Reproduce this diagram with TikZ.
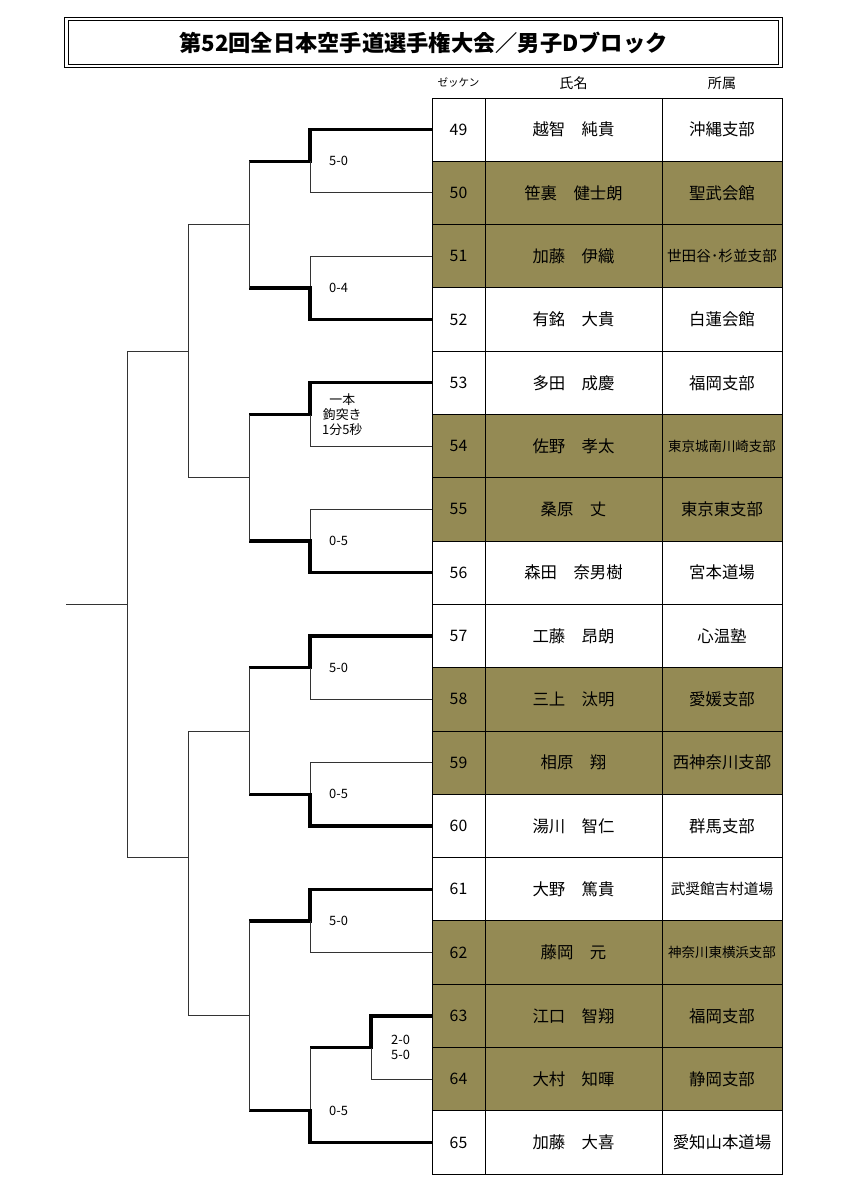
\documentclass[tikz,border=0pt]{standalone}
\usepackage{fontspec}
\setmainfont{Noto Sans CJK JP}
\usepackage{tikz}
\usetikzlibrary{positioning}
\definecolor{tanfill}{HTML}{948A54}
\newcommand\clubN{\fontsize{14}{16}\selectfont}
\newcommand\clubM{\fontsize{12.5}{14}\selectfont}
\newcommand\clubS{\fontsize{11.5}{13}\selectfont}
\tikzset{
  cell/.style={rectangle,draw=black,line width=0.8pt,inner sep=0pt,outer sep=0pt,minimum height=1.899cm,align=center},
  numcell/.style={cell,minimum width=1.59cm,font=\fontsize{13.5}{15}\selectfont},
  namecell/.style={cell,minimum width=5.31cm,font=\fontsize{14}{16}\selectfont},
  clubcell/.style={cell,minimum width=3.6cm},
  titlebox/.style={rectangle,draw,double,double distance=2.2pt,line width=0.7pt,minimum width=21.42cm,minimum height=1.42cm,font=\fontsize{19}{22}\selectfont},
  headtext/.style={inner sep=0pt,font=\fontsize{12}{14}\selectfont},
  score/.style={inner sep=0pt,align=center,font=\fontsize{11}{13}\selectfont}
}
\begin{document}
\begin{tikzpicture}[x=0.03cm,y=-0.03cm,
    win/.style={line width=2.8pt,black},
    lose/.style={line width=0.8pt,black!80}
    ]

  \useasboundingbox (0,0) rectangle (848,1200);

  \node[titlebox] (title) at (423.5,42.5) {\textbf{第52回全日本空手道選手権大会／男子Dブロック}};

  \foreach \no/\nm/\cl/\bg/\fs [count=\i from 0] in {
      49/越智　純貴/沖縄支部/white/\clubN,
      50/笹裏　健士朗/聖武会館/tanfill/\clubN,
      51/加藤　伊織/世田谷･杉並支部/tanfill/\clubM,
      52/有銘　大貴/白蓮会館/white/\clubN,
      53/多田　成慶/福岡支部/white/\clubN,
      54/佐野　孝太/東京城南川崎支部/tanfill/\clubS,
      55/桑原　丈/東京東支部/tanfill/\clubN,
      56/森田　奈男樹/宮本道場/white/\clubN,
      57/工藤　昂朗/心温塾/white/\clubN,
      58/三上　汰明/愛媛支部/tanfill/\clubN,
      59/相原　翔/西神奈川支部/tanfill/\clubN,
      60/湯川　智仁/群馬支部/white/\clubN,
      61/大野　篤貴/武奨館吉村道場/white/\clubM,
      62/藤岡　元/神奈川東横浜支部/tanfill/\clubS,
      63/江口　智翔/福岡支部/tanfill/\clubN,
      64/大村　知暉/静岡支部/tanfill/\clubN,
      65/加藤　大喜/愛知山本道場/white/\clubN}{
    \node[numcell,fill=\bg] (n\no) at (458.5,{129.65+63.3*\i}) {\no};
    \node[namecell,fill=\bg,right=0pt of n\no] (m\no) {\nm};
    \node[clubcell,fill=\bg,font=\fs,right=0pt of m\no] (c\no) {\cl};
  }

  \node[headtext,font=\fontsize{9}{10}\selectfont,above=0.3cm of n49] (hnum) {ゼッケン};
  \node[headtext,above=0.25cm of m49] (hname) {氏名};
  \node[headtext,above=0.25cm of c49] (hclub) {所属};

  \coordinate (j1) at (310,161.3);
  \coordinate (j2) at (310,287.9);
  \coordinate (j3) at (310,414.5);
  \coordinate (j4) at (310,541.1);
  \coordinate (j5) at (310,667.7);
  \coordinate (j6) at (310,794.3);
  \coordinate (j7) at (310,920.9);
  \coordinate (j0) at (371,1047.5);
  \coordinate (j8) at (310,1110.8);
  \coordinate (k1) at (249,224.6);
  \coordinate (k2) at (249,477.8);
  \coordinate (k3) at (249,731);
  \coordinate (k4) at (249,1015.85);
  \coordinate (t1) at (188,351.2);
  \coordinate (t2) at (188,857.6);
  \coordinate (f) at (127,604.4);
  \coordinate (fin) at (66,604.4);

  \draw[win] (n49.west) -| (j1) -- (k1 |- j1);
  \draw[lose] (n50.west) -| (j1);
  \draw[lose] (n51.west) -| (j2);
  \draw[win] (n52.west) -| (j2) -- (k1 |- j2);
  \draw[win] (n53.west) -| (j3) -- (k2 |- j3);
  \draw[lose] (n54.west) -| (j3);
  \draw[lose] (n55.west) -| (j4);
  \draw[win] (n56.west) -| (j4) -- (k2 |- j4);
  \draw[win] (n57.west) -| (j5) -- (k3 |- j5);
  \draw[lose] (n58.west) -| (j5);
  \draw[lose] (n59.west) -| (j6);
  \draw[win] (n60.west) -| (j6) -- (k3 |- j6);
  \draw[win] (n61.west) -| (j7) -- (k4 |- j7);
  \draw[lose] (n62.west) -| (j7);
  \draw[win] (n63.west) -| (j0) -- (j8 |- j0);
  \draw[lose] (n64.west) -| (j0);
  \draw[lose] (j8 |- j0) -- (j8);
  \draw[win] (n65.west) -| (j8) -- (k4 |- j8);

  \draw[lose] (k1 |- j1) -- (k1 |- j2);
  \draw[lose] (k1) -- (t1 |- k1);
  \draw[lose] (k2 |- j3) -- (k2 |- j4);
  \draw[lose] (k2) -- (t1 |- k2);
  \draw[lose] (k3 |- j5) -- (k3 |- j6);
  \draw[lose] (k3) -- (t2 |- k3);
  \draw[lose] (k4 |- j7) -- (k4 |- j8);
  \draw[lose] (k4) -- (t2 |- k4);
  \draw[lose] (t1 |- k1) -- (t1 |- k2);
  \draw[lose] (t1) -- (f |- t1);
  \draw[lose] (t2 |- k3) -- (t2 |- k4);
  \draw[lose] (t2) -- (f |- t2);
  \draw[lose] (f |- t1) -- (f |- t2);
  \draw[lose] (f) -- (fin);

  \node[score,right=0.57cm of j1] (sc1) {5-0};
  \node[score,right=0.57cm of j2] (sc2) {0-4};
  \node[score,right=0.36cm of j3] (sc3) {一本\\鉤突き\\1分5秒};
  \node[score,right=0.57cm of j4] (sc4) {0-5};
  \node[score,right=0.57cm of j5] (sc5) {5-0};
  \node[score,right=0.57cm of j6] (sc6) {0-5};
  \node[score,right=0.57cm of j7] (sc7) {5-0};
  \node[score,right=0.6cm of j0] (sc8) {2-0\\5-0};
  \node[score,right=0.57cm of j8] (sc9) {0-5};

\end{tikzpicture}
\end{document}
